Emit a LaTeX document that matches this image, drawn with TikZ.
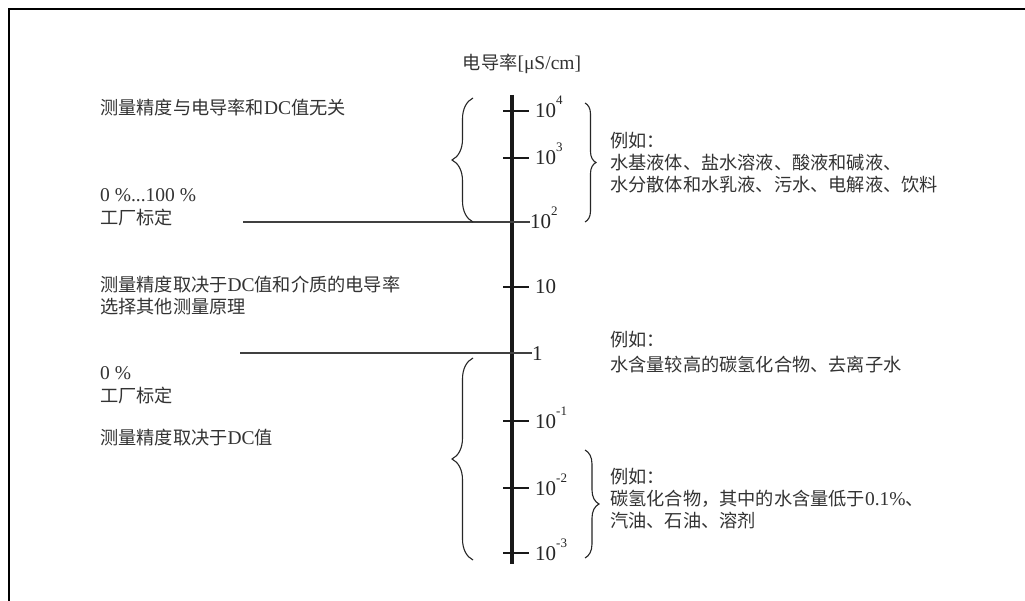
\documentclass[tikz,border=0pt]{standalone}
\usepackage{fontspec}
\setmainfont{Liberation Serif}
\newfontfamily\cjk{Noto Sans CJK SC}
\usetikzlibrary{decorations.pathreplacing}
\newcommand\zh[1]{{\cjk\fontsize{18.2}{22}\selectfont #1}}
\newcommand\supx[1]{\raisebox{13pt}{\fontsize{13}{13}\selectfont #1}}
\begin{document}
\begin{tikzpicture}[x=1pt,y=-1pt,
  lbl/.style={anchor=base west, inner sep=0pt, text=black!80, font=\fontsize{19.5}{22}\selectfont},
  ticklbl/.style={anchor=base west, inner sep=0pt, text=black!85, font=\fontsize{21}{24}\selectfont},
  ttl/.style={anchor=base, inner sep=0pt, text=black!80, font=\fontsize{19.5}{22}\selectfont},
  axisline/.style={line width=3.6pt, black!90},
  tickline/.style={line width=1.6pt, black!90},
  rule/.style={line width=1.2pt, black!75},
  bracedeco/.style={decorate, decoration={brace, amplitude=#1}, line width=1.1pt, black!85},
  bracedeco/.default=20pt,
  frameline/.style={line width=2.5pt}]
\useasboundingbox (0,0) rectangle (1025,601);
\fill[white] (0,0) rectangle (1025,601);
% frame
\coordinate (fbl) at (9,601);
\coordinate (ftl) at (9,9);
\coordinate (ftr) at (1025,9);
\draw[frameline] (fbl) -- (ftl) -- (ftr);
% title
\node[ttl] (title) at (522,69.5) {\zh{电导率}[μS/cm]};
% axis
\coordinate (axtop) at (512,95);
\coordinate (axbot) at (512,564);
\draw[axisline] (axtop) -- (axbot);
% tick points
\coordinate (a4) at (512,111);
\coordinate (a3) at (512,158);
\coordinate (a2) at (512,222);
\coordinate (a1) at (512,287);
\coordinate (a0) at (512,353);
\coordinate (am1) at (512,421);
\coordinate (am2) at (512,488);
\coordinate (am3) at (512,553);
\foreach \p in {a4,a3,a1,am1,am2,am3}{
  \draw[tickline] ([xshift=-9pt]\p) -- ([xshift=17pt]\p);
}
\draw[tickline] ([xshift=-9pt]a2) -- ([xshift=0pt]a2);
\draw[tickline] ([xshift=-9pt]a0) -- ([xshift=0pt]a0);
% tick labels
\node[ticklbl] (l4) at (535,118) {10\supx{4}};
\node[ticklbl] (l3) at (535,165) {10\supx{3}};
\node[ticklbl] (l2) at (530,229) {10\supx{2}};
\node[ticklbl] (l1) at (535,294) {10};
\node[ticklbl] (l0) at (532,360) {1};
\node[ticklbl] (lm1) at (535,428) {10\supx{-1}};
\node[ticklbl] (lm2) at (535,495) {10\supx{-2}};
\node[ticklbl] (lm3) at (535,560) {10\supx{-3}};
% horizontal rules
\coordinate (r2s) at (243,222);
\coordinate (r0s) at (240,353);
\draw[rule] (r2s) -- (l2.west |- a2);
\draw[rule] (r0s) -- (l0.west |- a0);
% left texts
\node[lbl] (t1) at (100,114.5) {\zh{测量精度与电导率和}DC\zh{值无关}};
\node[lbl] (t2) at (100,202) {0 \%...100 \%};
\node[lbl] (t3) at (100,224.5) {\zh{工厂标定}};
\node[lbl] (t4) at (100,291.5) {\zh{测量精度取决于}DC\zh{值和介质的电导率}};
\node[lbl] (t5) at (100,313.5) {\zh{选择其他测量原理}};
\node[lbl] (t6) at (100,379) {0 \%};
\node[lbl] (t7) at (100,402.5) {\zh{工厂标定}};
\node[lbl] (t8) at (100,444.5) {\zh{测量精度取决于}DC\zh{值}};
% right texts
\node[lbl] (r1a) at (610,147.5) {\zh{例如：}};
\node[lbl] (r1b) at (610,169.5) {\zh{水基液体、盐水溶液、酸液和碱液、}};
\node[lbl] (r1c) at (610,191.5) {\zh{水分散体和水乳液、污水、电解液、饮料}};
\node[lbl] (r2a) at (610,346.5) {\zh{例如：}};
\node[lbl] (r2b) at (610,371.5) {\zh{水含量较高的碳氢化合物、去离子水}};
\node[lbl] (r3a) at (610,483.5) {\zh{例如：}};
\node[lbl] (r3b) at (610,505.5) {\zh{碳氢化合物，其中的水含量低于}0.1\%\zh{、}};
\node[lbl] (r3c) at (610,527.5) {\zh{汽油、石油、溶剂}};
% braces
\coordinate (b1s) at (473,222);
\coordinate (b1e) at (473,98);
\draw[bracedeco=21pt] (b1s) -- (b1e);
\coordinate (b2s) at (585,103);
\coordinate (b2e) at (585,222);
\draw[bracedeco=11pt] (b2s) -- (b2e);
\coordinate (b3s) at (473,560);
\coordinate (b3e) at (473,358);
\draw[bracedeco=21pt] (b3s) -- (b3e);
\coordinate (b4s) at (585,450);
\coordinate (b4e) at (585,558);
\draw[bracedeco=14pt] (b4s) -- (b4e);
\end{tikzpicture}
\end{document}
